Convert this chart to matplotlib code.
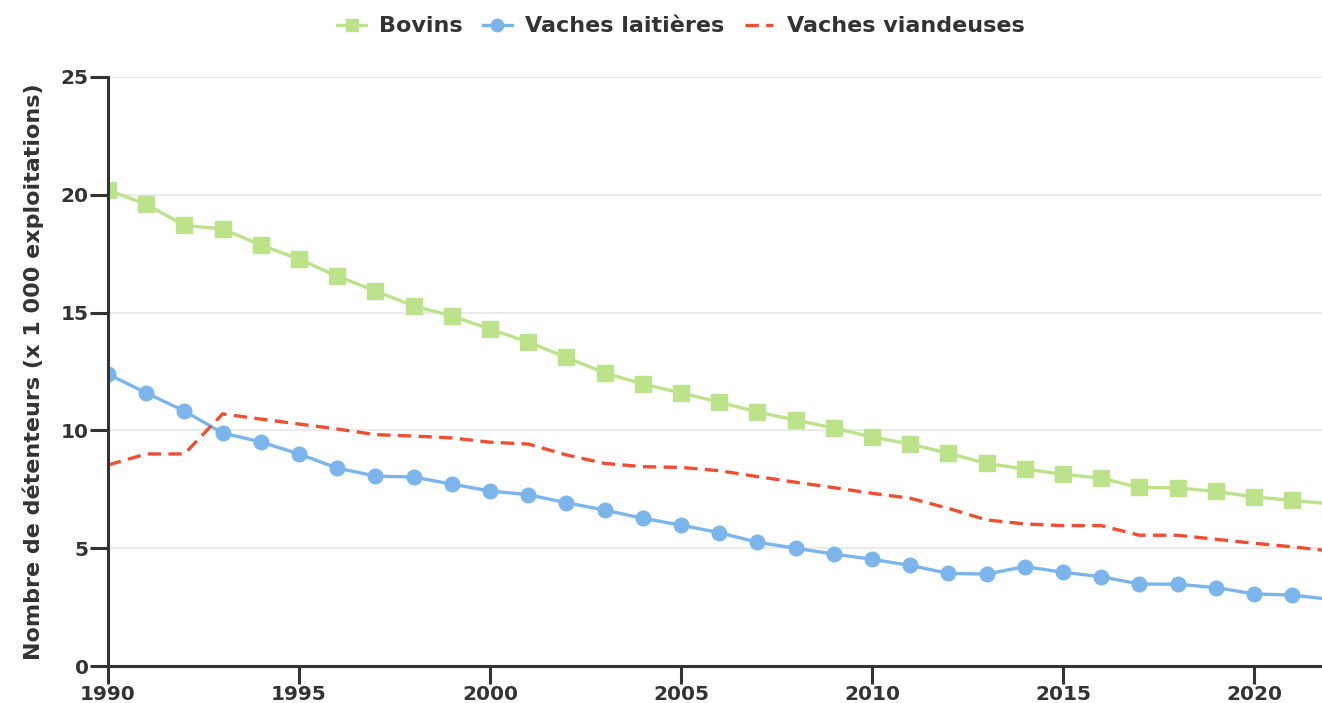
import matplotlib
matplotlib.use("Agg")
import matplotlib.pyplot as plt

years = list(range(1990, 2023))
bovins = [20.2, 19.6, 18.7, 18.55, 17.87, 17.27, 16.55, 15.92, 15.28, 14.86,
          14.3, 13.75, 13.1, 12.44, 11.97, 11.59, 11.2, 10.78, 10.44, 10.1,
          9.72, 9.42, 9.03, 8.6, 8.36, 8.14, 7.97, 7.58, 7.56, 7.41,
          7.18, 7.03, 6.88]
laitieres = [12.39, 11.59, 10.82, 9.89, 9.51, 9.0, 8.4, 8.06, 8.02, 7.72,
             7.43, 7.27, 6.93, 6.62, 6.27, 5.98, 5.66, 5.25, 5.0, 4.75,
             4.53, 4.27, 3.93, 3.9, 4.22, 3.98, 3.79, 3.48, 3.47, 3.33,
             3.06, 3.01, 2.83]
viandeuses = [8.53, 9.0, 9.0, 10.7, 10.48, 10.27, 10.06, 9.82, 9.76, 9.68,
              9.5, 9.42, 8.96, 8.6, 8.46, 8.43, 8.29, 8.04, 7.8, 7.57,
              7.33, 7.12, 6.69, 6.2, 6.03, 5.96, 5.96, 5.55, 5.55, 5.38,
              5.21, 5.06, 4.88]
xticks = [1990, 1995, 2000, 2005, 2010, 2015, 2020]
yticks = [0, 5, 10, 15, 20, 25]

TEXT = "#333333"
plt.rcParams["font.family"] = "DejaVu Sans"
plt.rcParams["font.weight"] = "bold"

fig = plt.figure(figsize=(13.22, 7.03), dpi=100)
ax = fig.add_axes([108 / 1322, 1 - 666 / 703, 1 - 108 / 1322, (666 - 77) / 703])

ax.plot(years, bovins, color="#bde38a", lw=2.4, marker="s", ms=11,
        label="Bovins")
ax.plot(years, laitieres, color="#7cb5ec", lw=2.4, marker="o", ms=10.5,
        label="Vaches laitières")
ax.plot(years, viandeuses, color="#f04e30", lw=2.4, ls=(0, (4, 2.2)),
        label="Vaches viandeuses")

ax.set_xlim(1990, 2021.78)
ax.set_ylim(0, 25)
ax.set_xticks(xticks)
ax.set_yticks(yticks)
ax.grid(axis="y", color="#e6e6e6", lw=1.2)
ax.set_axisbelow(True)
for s in ["top", "right"]:
    ax.spines[s].set_visible(False)
for s in ["left", "bottom"]:
    ax.spines[s].set_color(TEXT)
    ax.spines[s].set_linewidth(2.2)
ax.tick_params(axis="both", colors=TEXT, width=2.2, length=13,
               labelsize=14.5, pad=1)
for lab in ax.get_xticklabels() + ax.get_yticklabels():
    lab.set_fontweight("bold")
ax.set_ylabel("Nombre de détenteurs (x 1 000 exploitations)", fontsize=16,
              fontweight="bold", color=TEXT, labelpad=12)

fig.legend(loc="upper center", bbox_to_anchor=(0.515, 1.005), ncol=3,
           frameon=False, fontsize=16, handlelength=1.3, columnspacing=0.9,
           handletextpad=0.6, labelcolor=TEXT, markerscale=0.85)

fig.savefig("out.png", dpi=100)
